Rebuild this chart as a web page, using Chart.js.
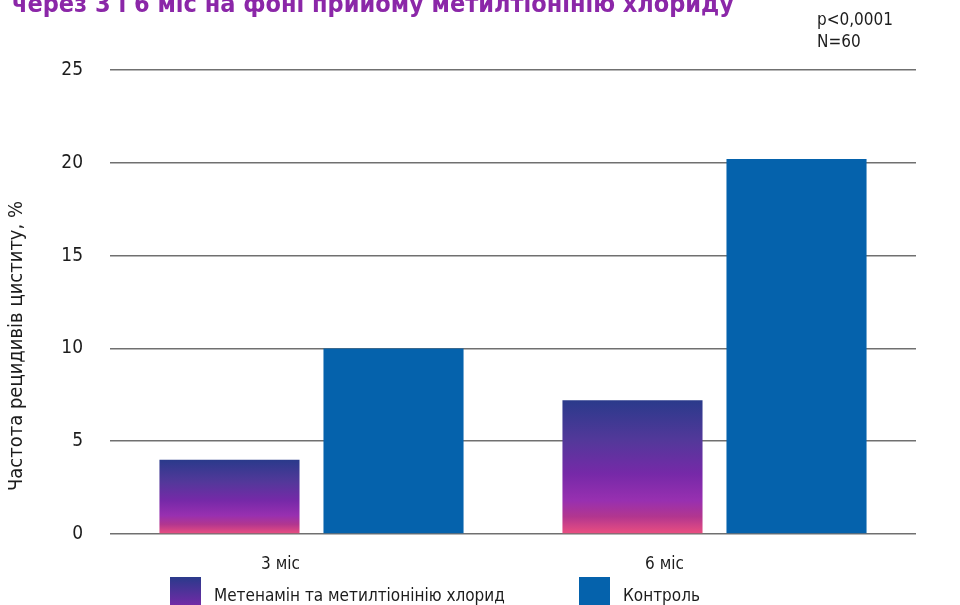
<!DOCTYPE html>
<html>
<head>
<meta charset="utf-8">
<script src="https://cdn.jsdelivr.net/npm/chart.js@4/dist/chart.umd.min.js"></script>
<style>
  html, body { margin: 0; padding: 0; background: #fff; }
  #box { position: relative; width: 960px; height: 605px; }
</style>
</head>
<body>
<div id="box"><canvas id="chart" width="960" height="605"></canvas></div>
<script>
const categories = ['3 міс', '6 міс'];
const seriesLabels = ['Метенамін та метилтіонінію хлорид', 'Контроль'];
const methenamine = [4, 7.2];
const control = [10, 20.2];
const yTicks = [0, 5, 10, 15, 20, 25];
const titleText = 'через 3 і 6 міс на фоні прийому метилтіонінію хлориду';
const notes = ['p<0,0001', 'N=60'];
const yTitle = 'Частота рецидивів циститу, %';

(function(){
  const FONT = "'DejaVu Sans Condensed', 'Liberation Sans', Arial, sans-serif";
  const INK = '#1c1c1c';
  const BLUE = '#0562ac';
  const stops = [[0,'#2a3a8b'],[0.3,'#53389a'],[0.55,'#7629a8'],[0.75,'#9830b0'],[0.87,'#b2368f'],[1,'#ec4f80']];

  Chart.defaults.font.family = FONT;
  Chart.defaults.color = INK;

  function barFill(c){
    const chart = c.chart;
    if (!chart.chartArea || c.type !== 'data' || !c.parsed) return '#7629a8';
    const y = chart.scales.y;
    const top = y.getPixelForValue(c.parsed.y), bottom = y.getPixelForValue(0);
    const g = chart.ctx.createLinearGradient(0, top, 0, bottom);
    stops.forEach(s => g.addColorStop(s[0], s[1]));
    return g;
  }

  // text around the plot: title, notes, category labels, y title, legend
  const extras = {
    id: 'extras',
    afterDraw(chart){
      const ctx = chart.ctx, x = chart.scales.x;
      ctx.save();
      ctx.fillStyle = '#8b27a8';
      ctx.font = 'bold 25px ' + FONT;
      ctx.textBaseline = 'alphabetic';
      ctx.textAlign = 'left';
      ctx.fillText(titleText, 12, 12);

      ctx.fillStyle = INK;
      ctx.font = '17px ' + FONT;
      notes.forEach((t, i) => ctx.fillText(t, 817, 25 + i * 22));

      ctx.font = '17px ' + FONT;
      ctx.textAlign = 'center';
      const shift = [-31, -50];
      categories.forEach((t, i) => ctx.fillText(t, x.getPixelForValue(i) + shift[i], 569));

      ctx.save();
      ctx.translate(22, 346);
      ctx.rotate(-Math.PI / 2);
      ctx.font = '20px ' + FONT;
      ctx.fillText(yTitle, 0, 0);
      ctx.restore();

      // legend
      const lx = [170, 579];
      ctx.textAlign = 'left';
      ctx.font = '17px ' + FONT;
      chart.data.datasets.forEach((ds, i) => {
        if (i === 0) {
          const g = ctx.createLinearGradient(0, 577, 0, 607);
          g.addColorStop(0, stops[0][1]);
          g.addColorStop(1, stops[2][1]);
          ctx.fillStyle = g;
        } else {
          ctx.fillStyle = BLUE;
        }
        ctx.fillRect(lx[i], 577, 31, 30);
        ctx.fillStyle = INK;
        ctx.fillText(ds.label, lx[i] + 44, 601);
      });
      ctx.restore();
    }
  };

  new Chart(document.getElementById('chart'), {
    type: 'bar',
    data: {
      labels: categories,
      datasets: [
        { label: seriesLabels[0], data: methenamine, backgroundColor: barFill },
        { label: seriesLabels[1], data: control, backgroundColor: BLUE }
      ]
    },
    options: {
      responsive: false,
      animation: false,
      categoryPercentage: 0.814,
      barPercentage: 0.854,
      layout: { padding: { top: 70, right: 44, bottom: 71, left: 0 } },
      plugins: { legend: { display: false }, tooltip: { enabled: false } },
      scales: {
        x: {
          grid: { display: false },
          border: { display: false },
          ticks: { display: false },
          afterFit: s => { s.height = 0; }
        },
        y: {
          min: 0, max: 25,
          afterBuildTicks: s => { s.ticks = yTicks.map(v => ({ value: v })); },
          afterFit: s => { s.width = 110; },
          ticks: { padding: 27, font: { size: 19 }, color: INK },
          grid: { color: '#707070', lineWidth: 1.5, drawTicks: false },
          border: { display: false }
        }
      }
    },
    plugins: [extras]
  });
})();
</script>
</body>
</html>
